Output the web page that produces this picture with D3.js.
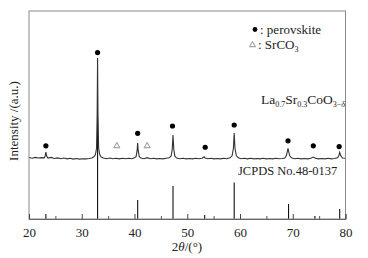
<!DOCTYPE html>
<html><head><meta charset="utf-8">
<script src="https://cdn.jsdelivr.net/npm/d3@7"></script>
<style>body{margin:0;background:#fff}svg{display:block;font-family:"Liberation Serif","Times New Roman",serif}</style>
</head><body><svg id="c" width="368" height="258"></svg>
<script>
// XRD pattern (2θ, intensity a.u.)
const twoTheta = [20.0,20.6,21.2,21.8,22.4,22.9,23.05,23.2,23.35,23.6,24.2,24.8,25.4,26.0,26.6,27.2,27.8,28.4,29.0,29.6,30.2,30.8,31.4,31.9,32.3,32.6,32.8,32.92,33.0,33.08,33.2,33.4,33.7,34.1,34.7,35.3,35.9,36.5,37.1,37.7,38.3,38.9,39.5,40.0,40.3,40.5,40.6,40.7,40.9,41.2,41.8,42.4,43.0,43.6,44.2,44.8,45.4,46.0,46.6,46.95,47.15,47.3,47.45,47.65,48.0,48.6,49.2,49.8,50.4,51.0,51.6,52.2,52.8,53.2,53.4,53.9,54.5,55.1,55.7,56.3,56.9,57.5,58.1,58.5,58.75,58.9,59.05,59.3,59.7,60.2,60.8,61.4,62.0,62.6,63.2,63.8,64.4,65.0,65.6,66.2,66.8,67.4,68.0,68.5,68.8,69.1,69.4,69.8,70.4,71.0,71.6,72.2,72.8,73.4,73.9,74.3,74.9,75.5,76.1,76.7,77.3,77.9,78.5,78.75,78.9,79.1,79.4,80.0];
const intensity = [29.6,29.2,29.6,29.3,29.5,29.4,30.3,32.2,30.2,29.3,29.6,29.1,29.4,29.0,29.3,28.9,29.2,28.8,29.1,28.8,29.0,28.9,29.1,29.3,29.9,31.0,34.0,50.0,77.4,50.0,34.0,31.0,29.8,29.3,29.0,29.3,29.0,29.2,28.9,29.2,29.0,29.2,29.0,29.4,30.0,33.0,36.5,33.0,30.0,29.3,29.0,29.5,29.0,29.2,28.9,29.1,28.9,29.2,29.4,30.3,33.5,40.4,33.5,30.2,29.3,29.0,29.2,28.9,29.1,28.9,29.2,29.0,29.2,29.9,29.3,29.0,29.2,28.9,29.1,28.9,29.2,29.0,29.4,30.4,34.0,41.3,34.0,30.4,29.4,29.0,29.2,28.9,29.2,28.9,29.1,28.9,29.2,28.9,29.1,28.9,29.2,29.0,29.1,29.3,30.5,34.0,30.5,29.3,29.0,29.2,28.9,29.1,28.9,29.2,29.8,29.2,28.9,29.1,28.9,29.2,28.9,29.1,29.4,30.5,32.1,30.5,29.3,29.2];
// perovskite markers
const perovPos = [23.2,33.0,40.6,47.2,53.4,58.9,69.1,73.9,78.8];
const perovY = [35.2,80.0,41.2,44.7,34.5,45.2,37.6,35.2,34.8];
// SrCO3 markers
const srco3Pos = [36.65,42.4];
const srco3Y = [35.1,35.1];
// JCPDS No.48-0137 reference lines
const refPos = [23.2,33.0,40.6,47.3,53.3,58.9,69.2,74.2,78.9];
const refInt = [5,100,19,33,4,36.5,15,3,10];
const majorTicks = [20,30,40,50,60,70,80];
const minorTicks = [25,35,45,55,65,75];

const svg = d3.select("#c");
const L=29, R=345.5, T=11, B=219;
const x = d3.scaleLinear().domain([20,80]).range([L,R]);
const y = d3.scaleLinear().domain([0,100]).range([B,T]);
const yRef = d3.scaleLinear().domain([0,100]).range([B,B-100]);

// reference sticks
svg.append("g").selectAll("line").data(refPos).join("line")
  .attr("x1",d=>x(d)).attr("x2",d=>x(d))
  .attr("y1",B).attr("y2",(d,i)=>yRef(refInt[i]))
  .attr("stroke","#111").attr("stroke-width",1.1);

// curve
const pts = twoTheta.map((t,i)=>[t,intensity[i]]);
svg.append("path").datum(pts)
  .attr("d",d3.line().x(d=>x(d[0])).y(d=>y(d[1])))
  .attr("fill","none").attr("stroke","#333").attr("stroke-width",1.1);

// frame
svg.append("rect").attr("x",L).attr("y",T).attr("width",R-L).attr("height",B-T)
  .attr("fill","none").attr("stroke","#8a8a8a").attr("stroke-width",1);

// axes
const ax = svg.append("g").attr("transform",`translate(0,${B})`)
  .call(d3.axisBottom(x).tickValues(majorTicks).tickSize(-5).tickPadding(9).tickFormat(d3.format("d")));
ax.select(".domain").attr("stroke","#666");
ax.selectAll(".tick line").attr("stroke","#444");
ax.selectAll("text").attr("font-size","13px").attr("fill","#222").attr("font-family","Liberation Serif");
const axm = svg.append("g").attr("transform",`translate(0,${B})`)
  .call(d3.axisBottom(x).tickValues(minorTicks).tickSize(-3).tickFormat(""));
axm.select(".domain").remove();
axm.selectAll(".tick line").attr("stroke","#555");

// markers
svg.append("g").selectAll("circle").data(perovPos).join("circle")
  .attr("cx",d=>x(d)).attr("cy",(d,i)=>y(perovY[i])).attr("r",2.6).attr("fill","#000");
const tri = d3.symbol().type(d3.symbolTriangle).size(16);
svg.append("g").selectAll("path").data(srco3Pos).join("path")
  .attr("d",tri).attr("transform",(d,i)=>`translate(${x(d)},${y(srco3Y[i])})`)
  .attr("fill","none").attr("stroke","#777").attr("stroke-width",0.8);

// legend
svg.append("circle").attr("cx",255).attr("cy",29.5).attr("r",2.4).attr("fill","#000");
svg.append("text").attr("x",260).attr("y",33.5).attr("font-size","13px").attr("fill","#222").text(": perovskite");
svg.append("path").attr("d",tri).attr("transform","translate(252.5,45)").attr("fill","none").attr("stroke","#777").attr("stroke-width",0.8);
const t2 = svg.append("text").attr("x",258).attr("y",48.5).attr("font-size","13px").attr("fill","#222");
t2.append("tspan").text(": SrCO");
t2.append("tspan").attr("font-size","8px").attr("dy",3).text("3");

// sample label
const t3 = svg.append("text").attr("x",261).attr("y",103.5).attr("font-size","13.5px").attr("fill","#222");
t3.append("tspan").text("La");
t3.append("tspan").attr("font-size","8px").attr("dy",3).text("0.7");
t3.append("tspan").attr("dy",-3).text("Sr");
t3.append("tspan").attr("font-size","8px").attr("dy",3).text("0.3");
t3.append("tspan").attr("dy",-3).text("CoO");
t3.append("tspan").attr("font-size","8px").attr("dy",3).text("3−");
t3.append("tspan").attr("font-size","8px").attr("font-style","italic").text("δ");

svg.append("text").attr("x",238).attr("y",174.5).attr("font-size","12.5px").attr("fill","#222").text("JCPDS No.48-0137");

// axis titles
const xt = svg.append("text").attr("x",187).attr("y",251).attr("text-anchor","middle").attr("font-size","13px").attr("fill","#222");
xt.append("tspan").text("2");
xt.append("tspan").attr("font-style","italic").text("θ");
xt.append("tspan").text("/(°)");
svg.append("text").attr("transform","translate(17.5,121) rotate(-90)").attr("text-anchor","middle")
  .attr("font-size","13px").attr("fill","#222").text("Intensity /(a.u.)");
</script></body></html>
